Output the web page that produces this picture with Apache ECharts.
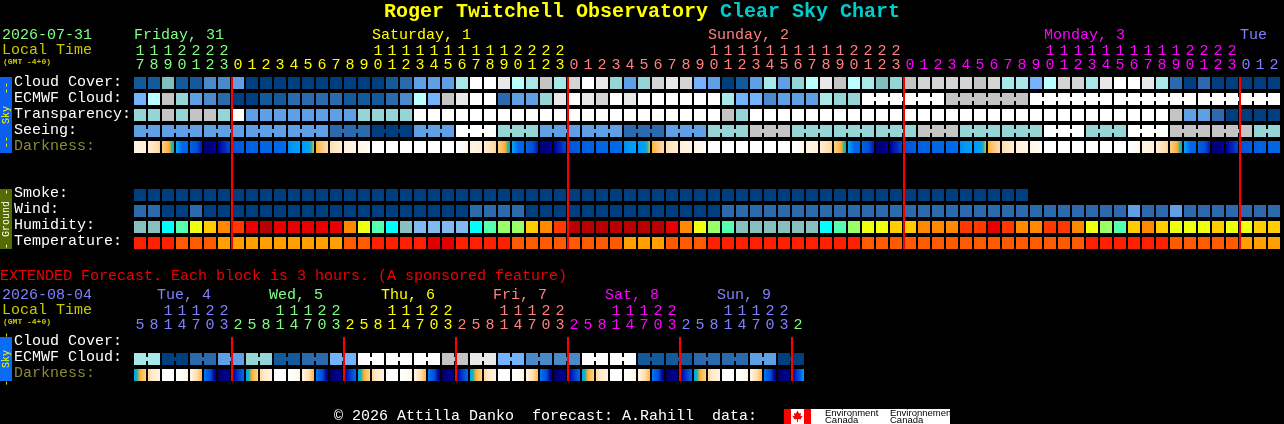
<!DOCTYPE html>
<html><head><meta charset="utf-8">
<style>html,body{margin:0;padding:0;background:#000}#c{width:1284px;height:424px}</style>
<script src="https://cdn.jsdelivr.net/npm/echarts@6/dist/echarts.min.js"></script>
</head><body><div id="c"></div>
<script>
// ---- tick labels ----
const mainOnes = '7 8 9 0 1 2 3 0 1 2 3 4 5 6 7 8 9 0 1 2 3 4 5 6 7 8 9 0 1 2 3 0 1 2 3 4 5 6 7 8 9 0 1 2 3 4 5 6 7 8 9 0 1 2 3 0 1 2 3 4 5 6 7 8 9 0 1 2 3 4 5 6 7 8 9 0 1 2 3 0 1 2'.split(' ');
const mainTens = ['1','1','1','2','2','2','2','','','','','','','','','','','1','1','1','1','1','1','1','1','1','1','2','2','2','2','','','','','','','','','','','1','1','1','1','1','1','1','1','1','1','2','2','2','2','','','','','','','','','','','1','1','1','1','1','1','1','1','1','1','2','2','2','2','','',''];
const mainDays = {0:'Friday, 31',17:'Saturday, 1',41:'Sunday, 2',65:'Monday, 3',79:'Tue'};
const mainDayColor = {0:0,17:1,41:2,65:3,79:4};
const mainRuns = [7,24,24,24,3];
const extOnes = '5 8 1 4 7 0 3 2 5 8 1 4 7 0 3 2 5 8 1 4 7 0 3 2 5 8 1 4 7 0 3 2 5 8 1 4 7 0 3 2 5 8 1 4 7 0 3 2'.split(' ');
const extTens = ['','','1','1','1','2','2','','','','1','1','1','2','2','','','','1','1','1','2','2','','','','1','1','1','2','2','','','','1','1','1','2','2','','','','1','1','1','2','2',''];
const extDays = {2:'Tue, 4',10:'Wed, 5',18:'Thu, 6',26:'Fri, 7',34:'Sat, 8',42:'Sun, 9'};
const extDayColor = {2:4,10:0,18:1,26:2,34:3,42:4};
const extRuns = [7,8,8,8,8,8,1];
const extRunColor = [4,0,1,2,3,4,0];
const skyRows = ['Cloud Cover:','ECMWF Cloud:','Transparency:','Seeing:','Darkness:'];
const groundRows = ['Smoke:','Wind:','Humidity:','Temperature:'];
const extRows = ['Cloud Cover:','ECMWF Cloud:','Darkness:'];
const mainRowSlots = ['0','1','2','3','4','5','6','7','8','9','10'];

// ---- values (palette levels) ----
const cloudCover = [1,1,13,1,1,3,3,4,0,0, 0,0,0,0,0,0,0,0,1,2, 4,4,4,7,12,12,11,8,7,9, 7,10,12,11,6,4,6,10,11,10, 5,4,0,1,4,7,4,6,8,11, 9,8,7,13,6,9,10,10,10,10, 9,10,7,7,5,8,10,10,7,11, 12,12,11,7,2,0,2,0,0,0, 0,0];
const ecmwf = [5,8,9,6,4,3,2,0,0,1, 1,2,2,2,2,1,1,1,2,3, 8,5,9,11,12,12,2,4,4,6, 11,12,11,10,12,11,12,12,12,12, 12,12,7,5,5,3,4,4,4,7, 6,6,12,12,12,12,12,12,9,9, 9,9,9,9,12,12,12,12,12,12, 12,12,12,12,12,12,12,12,12,12, 12,12];
const ecmwfBlocks = [1,1,1,1,1,1,1,1,1,1,1,1,1,1,1,1,1,1,1,1,1,1,1,1,1,1,1,1,1,1,1,1,1,1,1,1,1,1,1,1,1,1,1,1,1,1,1,1,1,1,1,1,6,6,6,6,6];
const transparency = [6,6,9,6,9,9,6,12,4,4, 4,4,4,4,4,4,6,6,6,6, 12,12,12,12,12,12,12,12,12,12, 12,12,12,12,12,12,12,12,12,12, 12,12,9,6,12,12,12,12,12,12, 12,12,12,12,12,12,12,12,12,12, 12,12,12,12,12,12,12,12,12,12, 12,12,12,12,9,4,4,2,0,0, 0,0];
const seeing = [4,4, 4,4,4, 4,4,4, 4,4,4, 4,4,4, 2,2,2, 0,0,0, 4,4,4, 12,12,12, 6,6,6, 4,4,4, 4,4,4, 2,2,2, 4,4,4, 6,6,6, 9,9,9, 6,6,6, 6,6,6, 6,6,6, 9,9,9, 6,6,6, 6,6,6, 12,12,12, 6,6,6, 12,12,12, 9,9,9, 9,9,9, 6,6];
const seeingBlocks = [2,3,3,3,3,3,3,3,3,3,3,3,3,3,3,3,3,3,3,3,3,3,3,3,3,3,3,2];
const darkness = [
 [1,1,1.2],[1.3,1.7,2.2],[2.3,2.9,3.4],[3.4,4.5,4.6],[4.7,5.2,6.2],[7.2,7,6.6],[6.5,6,5.5],[5.2,5,4.8],[4.8,4.7,4.7],[4.6,4.6,4.5],
 [4.5,4.5,4.4],[3.9,3.6,3.5],[3.6,3.55,3],[2.9,2.4,2],[1.9,1.5,1.3],[1.2,1,.9],[.8,.5,.2],[0,0,0],[0,0,0],[0,0,0],
 [0,0,0],[0,0,0],[0,0,0],[0,.3,.7],[1,1,1.2],[1.3,1.7,2.2],[2.3,2.9,3.4],[3.4,4.5,4.6],[4.7,5.2,6.2],[7.2,7,6.6],
 [6.5,6,5.5],[5.2,5,4.8],[4.8,4.7,4.7],[4.6,4.6,4.5],[4.5,4.5,4.4],[3.9,3.6,3.5],[3.6,3.55,3],[2.9,2.4,2],[1.9,1.5,1.3],[1.2,1,.9],
 [.8,.5,.2],[0,0,0],[0,0,0],[0,0,0],[0,0,0],[0,0,0],[0,0,0],[0,.3,.7],[1,1,1.2],[1.3,1.7,2.2],
 [2.3,2.9,3.4],[3.4,4.5,4.6],[4.7,5.2,6.2],[7.2,7,6.6],[6.5,6,5.5],[5.2,5,4.8],[4.8,4.7,4.7],[4.6,4.6,4.5],[4.5,4.5,4.4],[3.9,3.6,3.5],
 [3.6,3.55,3],[2.9,2.4,2],[1.9,1.5,1.3],[1.2,1,.9],[.8,.5,.2],[0,0,0],[0,0,0],[0,0,0],[0,0,0],[0,0,0],
 [0,0,0],[0,.3,.7],[1,1,1.2],[1.3,1.7,2.2],[2.3,2.9,3.4],[3.4,4.5,4.6],[4.7,5.2,6.2],[7.2,7,6.6],[6.5,6,5.5],[5.2,5,4.8],
 [4.8,4.7,4.7],[4.6,4.6,4.5]];
const smoke = [0,0,0,0,0,0,0,0,0,0, 0,0,0,0,0,0,0,0,0,0, 0,0,0,0,0,0,0,0,0,0, 0,0,0,0,0,0,0,0,0,0, 0,0,0,0,0,0,0,0,0,0, 0,0,0,0,0,0,0,0,0,0, 0,0,0,0];
const wind = [2,2,0,0,2,0,0,0,0,0, 0,0,0,0,0,0,0,0,0,0, 0,0,0,0,2,2,2,2,0,0, 0,0,0,0,0,0,0,0,0,0, 0,0,2,2,2,2,2,2,2,2, 2,2,2,2,2,2,2,2,2,2, 2,2,2,2,2,2,2,2,2,2, 2,4,2,2,4,2,2,2,2,2, 2,2];
const humidity = [0,0,2,3,5,6,7,8,9,10, 9,9,9,9,9,7,5,3,2,0, 1,1,1,1,2,3,4,4,6,7, 8,10,10,10,10,10,10,10,9,7, 5,4,3,0,0,0,0,0,0,2, 3,4,5,5,6,6,7,7,7,8, 8,9,8,7,7,8,8,7,5,4, 3,6,7,6,5,5,5,6,5,5, 6,6];
const temperature = [2,2,2,1,1,1,0,0,0,0, 0,0,0,0,0,1,1,2,2,2, 2,3,3,2,2,2,2,1,1,1, 1,1,1,1,1,0,0,0,1,1, 1,2,2,2,2,2,2,2,2,2, 2,2,1,1,1,1,1,1,1,1, 1,1,1,1,1,1,1,1,2,2, 2,2,2,2,1,1,1,1,1,0, 0,0];
const extEcmwf = [7,7,0,0,2,2,4,4,6,6,1,1,2,2,5,5,12,12,12,12,12,12,9,9,11,11,5,5,3,3,3,3,12,12,12,12,1,1,1,1,2,2,2,2,4,4,0,0];
const extEcmwfBlocks = [2,2,2,2,2,2,2,2,2,2,2,2,2,2,2,2,2,2,2,2,2,2,2,2];
const extDarkness = [
 [3.5,3,2.2],[2,1.3,1],[0,0,0],[0,.3,.8],[.8,1.8,2.8],[4.2,5.2,7],[7.5,7,6.7],[6.5,5.8,4.5],
 [3.5,3,2.2],[2,1.3,1],[0,0,0],[0,.3,.8],[.8,1.8,2.8],[4.2,5.2,7],[7.5,7,6.7],[6.5,5.8,4.5],
 [3.5,3,2.2],[2,1.3,1],[0,0,0],[0,.3,.8],[.8,1.8,2.8],[4.2,5.2,7],[7.5,7,6.7],[6.5,5.8,4.5],
 [3.5,3,2.2],[2,1.3,1],[0,0,0],[0,.3,.8],[.8,1.8,2.8],[4.2,5.2,7],[7.5,7,6.7],[6.5,5.8,4.5],
 [3.5,3,2.2],[2,1.3,1],[0,0,0],[0,.3,.8],[.8,1.8,2.8],[4.2,5.2,7],[7.5,7,6.7],[6.5,5.8,4.5],
 [3.5,3,2.2],[2,1.3,1],[0,0,0],[0,.3,.8],[.8,1.8,2.8],[4.2,5.2,7],[7.5,7,6.7],[6.5,5.5,3.5]];
const mainMidnights = [7,31,55,79];
const extMidnights = [7,15,23,31,39,47];

// ---- palettes ----
const skyPalette = ['#003f7f','#135a9a','#2b6bad','#4a8acb','#5f9fe5','#73b3fd','#95d5d5','#a8e8e8','#b9ffff','#c4c4c4','#d4d4d4','#e8e8e8','#ffffff','#80bfbf'];
const humidityPalette = ['#88c0c0','#80b8f0','#00ffff','#55ffb0','#99ff66','#eeff10','#ffcc00','#ff8800','#ff3800','#e80000','#b80000'];
const temperaturePalette = ['#ffa000','#ff5a00','#ff2000','#e00000'];
const darkScale = [[0,[255,255,255]],[1,[255,243,224]],[2,[255,220,170]],[3,[255,176,48]],[3.25,[32,176,160]],[3.5,[0,160,255]],[4.5,[0,104,232]],[5.5,[0,72,208]],[6.5,[0,0,160]],[7.5,[0,0,96]]];
const dayPalette = ['#80ff80','#ffff00','#ff8080','#ff00ff','#8080ff'];

const MONO = '"Liberation Mono", monospace';
function darkColor(v){
  for(let k=1;k<darkScale.length;k++){
    if(v<=darkScale[k][0]){
      const [a,ca]=darkScale[k-1],[b,cb]=darkScale[k],t=(v-a)/(b-a);
      return 'rgb('+ca.map((c,j)=>Math.round(c+(cb[j]-c)*t)).join(',')+')';
    }
  }
  return 'rgb(0,0,96)';
}
function darkGradient(s){
  const stops=[];
  for(let p=0;p<=12;p++){
    const t=p/12, v=t<.5? s[0]+(s[1]-s[0])*t*2 : s[1]+(s[2]-s[1])*(t-.5)*2;
    stops.push({offset:t,color:darkColor(v)});
  }
  return new echarts.graphic.LinearGradient(0,0,1,0,stops);
}
function joinsFrom(blocks){ const out=[]; blocks.forEach(n=>{for(let k=0;k<n;k++)out.push(k<n-1?1:0);}); return out; }
function cellSeries(name,xi,yi,row,values,palette,joins){
  return {type:'custom',name,xAxisIndex:xi,yAxisIndex:yi,silent:true,clip:false,z:2,
    encode:{x:0,y:1},
    data:values.map((v,i)=>[i,row,v,joins?joins[i]:0]),
    renderItem:(p,api)=>{
      const c=api.coord([api.value(0),api.value(1)]),s=api.size([1,1]);
      const x=c[0]-s[0]/2+1,y=c[1]-6,fill=palette[api.value(2)];
      const kids=[{type:'rect',shape:{x,y,width:12,height:12},style:{fill}}];
      if(api.value(3)) kids.push({type:'rect',shape:{x:x+12,y:y+4,width:2,height:4},style:{fill}});
      return {type:'group',children:kids};
    }};
}
function darkSeries(name,xi,yi,row,samples){
  return {type:'custom',name,xAxisIndex:xi,yAxisIndex:yi,silent:true,clip:false,z:2,
    encode:{x:0,y:1},
    data:samples.map((v,i)=>[i,row]),
    renderItem:(p,api)=>{
      const c=api.coord([api.value(0),api.value(1)]),s=api.size([1,1]);
      return {type:'rect',shape:{x:c[0]-s[0]/2+1,y:c[1]-6,width:12,height:12},style:{fill:darkGradient(samples[api.value(0)])}};
    }};
}
function midnightSeries(xi,yi,idx,lastRow){
  return {type:'custom',name:'midnight',xAxisIndex:xi,yAxisIndex:yi,silent:true,clip:false,z:5,
    encode:{x:0,y:1},
    data:idx.map(i=>[i,0]),
    renderItem:(p,api)=>{
      const i=api.value(0),a=api.coord([i,0]),b=api.coord([i,lastRow]),s=api.size([1,1]);
      return {type:'rect',shape:{x:a[0]-s[0]/2,y:a[1]-6,width:2,height:b[1]-a[1]+12},style:{fill:'#ff0000'}};
    }};
}
function runColors(runs,map){ const out=[]; runs.forEach((n,r)=>{for(let k=0;k<n;k++)out.push(dayPalette[map?map[r]:r]);}); return out; }
const mainColors=runColors(mainRuns), extColors=runColors(extRuns,extRunColor);
function labelAxis(gridIndex,labels,colors,offset){
  return {type:'category',gridIndex,position:'top',offset,data:labels.map((v,i)=>({value:v,textStyle:{color:colors[i]}})),
    axisLine:{show:false},axisTick:{show:false},splitLine:{show:false},
    axisLabel:{interval:0,margin:2,fontFamily:MONO,fontSize:15,hideOverlap:false,showMinLabel:true,showMaxLabel:true}};
}
function dayAxis(gridIndex,n,days,dayColors){
  const data=[];
  for(let i=0;i<n;i++) data.push({value:days[i]||'',textStyle:{align:'left',color:days[i]?dayPalette[dayColors[i]]:'#000'}});
  return {type:'category',gridIndex,position:'top',offset:30,data,
    axisLine:{show:false},axisTick:{show:false},splitLine:{show:false},
    axisLabel:{interval:0,margin:2,align:'left',fontFamily:MONO,fontSize:15,hideOverlap:false,showMinLabel:true,showMaxLabel:true}};
}
function rowAxis(gridIndex,rows){
  return {type:'category',gridIndex,inverse:true,data:rows.map(r=>({value:r,textStyle:{align:'left',color:r==='Darkness:'?'#8a8a35':'#ffffff'}})),
    axisLine:{show:false},axisTick:{show:false},splitLine:{show:false},
    axisLabel:{interval:0,margin:119,align:'left',fontFamily:MONO,fontSize:15}};
}
const slotAxis=(g,rows)=>({type:'category',gridIndex:g,inverse:true,data:rows,axisLine:{show:false},axisTick:{show:false},splitLine:{show:false},axisLabel:{show:false}});
const hiddenY=g=>({type:'category',gridIndex:g,show:false,data:['a']});
const hiddenX=g=>({type:'category',gridIndex:g,show:false,data:['a']});

function txt(x,y,text,fill,font,extra){
  return Object.assign({type:'text',x,y,silent:true,style:{text,fill,font:font||('15px '+MONO),textAlign:'left',textVerticalAlign:'middle'}},extra||{});
}
function bar(x,y,w,h,fill){ return {type:'rect',silent:true,shape:{x,y,width:w,height:h},style:{fill}}; }
function vtxt(x,y,text,fill){
  return {type:'text',x,y,rotation:Math.PI/2,silent:true,style:{text,fill,font:'10px '+MONO,textAlign:'center',textVerticalAlign:'middle'}};
}
const tiny='bold 8px '+MONO;
const graphics=[
  txt(384,12,'Roger Twitchell Observatory','#ffff00','bold 20px '+MONO),
  txt(720,12,'Clear Sky Chart','#00cccc','bold 20px '+MONO),
  txt(2,35,'2026-07-31','#80ff80'),
  txt(2,50,'Local Time','#c8c800'),
  txt(3,62,'(GMT -4+0)','#c8c800',tiny),
  bar(0,77,12,76,'#0a5ff0'), vtxt(6,115,'--  Sky  --','#ffff00'),
  bar(0,189,12,60,'#556b00'), vtxt(6,219,'- Ground -','#ffffff'),
  txt(0,276,'EXTENDED Forecast. Each block is 3 hours. (A sponsored feature)','#f00000'),
  txt(2,295,'2026-08-04','#8080ff'),
  txt(2,310,'Local Time','#c8c800'),
  txt(3,322,'(GMT -4+0)','#c8c800',tiny),
  bar(0,337,12,44,'#0a6cf5'), vtxt(6,359,'-  Sky  -','#ffff00'),
  txt(334,416,'\u00a9 2026 Attilla Danko  forecast: A.Rahill  data:','#ffffff'),
  bar(784,409,166,15,'#ffffff'),
  bar(784,409,7,15,'#ff0000'),
  bar(804,409,7,15,'#ff0000'),
  {type:'polygon',silent:true,shape:{points:[[797.5,410.5],[799,413.5],[801,413],[800.5,416],[802.5,416],[800.5,419.5],[798,419],[798,422],[797,422],[797,419],[794.5,419.5],[792.5,416],[794.5,416],[794,413],[796,413.5]]},style:{fill:'#ff0000'}},
  txt(825,413,'Environment','#000','9.5px "Liberation Sans"'),
  txt(825,420.5,'Canada','#000','9.5px "Liberation Sans"'),
  txt(890,413,'Environnement','#000','9.5px "Liberation Sans"'),
  txt(890,420.5,'Canada','#000','9.5px "Liberation Sans"')
];

const chart=echarts.init(document.getElementById('c'),null,{renderer:'canvas',width:1284,height:424});
chart.setOption({
  backgroundColor:'#000',animation:false,
  grid:[
    {left:133,top:75,width:1148,height:176,outerBoundsMode:'none'},
    {left:127,top:75,width:1148,height:176,outerBoundsMode:'none'},
    {left:133,top:335,width:672,height:48,outerBoundsMode:'none'},
    {left:122,top:335,width:672,height:48,outerBoundsMode:'none'},
    {left:133,top:74,width:1148,height:80,outerBoundsMode:'none'},
    {left:133,top:185,width:1148,height:64,outerBoundsMode:'none'},
    {left:133,top:333,width:672,height:48,outerBoundsMode:'none'}
  ],
  xAxis:[
    labelAxis(0,mainOnes,mainColors,0),
    labelAxis(0,mainTens,mainColors,14),
    dayAxis(1,82,mainDays,mainDayColor),
    labelAxis(2,extOnes,extColors,0),
    labelAxis(2,extTens,extColors,14),
    dayAxis(3,48,extDays,extDayColor),
    hiddenX(4),hiddenX(5),hiddenX(6)
  ],
  yAxis:[slotAxis(0,mainRowSlots),hiddenY(1),slotAxis(2,extRows),hiddenY(3),rowAxis(4,skyRows),rowAxis(5,groundRows),rowAxis(6,extRows)],
  series:[
    cellSeries('Cloud Cover',0,0,0,cloudCover,skyPalette),
    cellSeries('ECMWF Cloud',0,0,1,ecmwf,skyPalette,joinsFrom(ecmwfBlocks)),
    cellSeries('Transparency',0,0,2,transparency,skyPalette),
    cellSeries('Seeing',0,0,3,seeing,skyPalette,joinsFrom(seeingBlocks)),
    darkSeries('Darkness',0,0,4,darkness),
    cellSeries('Smoke',0,0,7,smoke,skyPalette),
    cellSeries('Wind',0,0,8,wind,skyPalette),
    cellSeries('Humidity',0,0,9,humidity,humidityPalette),
    cellSeries('Temperature',0,0,10,temperature,temperaturePalette),
    midnightSeries(0,0,mainMidnights,10),
    cellSeries('Ext ECMWF',3,2,1,extEcmwf,skyPalette,joinsFrom(extEcmwfBlocks)),
    darkSeries('Ext Darkness',3,2,2,extDarkness),
    midnightSeries(3,2,extMidnights,2)
  ],
  graphic:{elements:graphics}
});
</script></body></html>
